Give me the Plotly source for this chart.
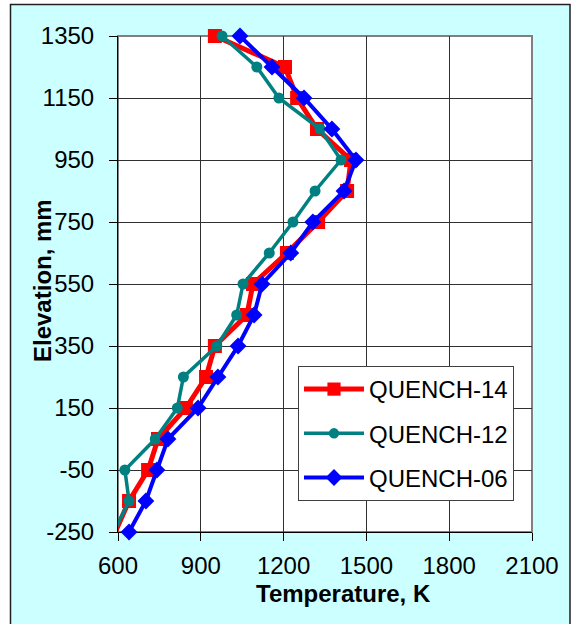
import plotly.graph_objects as go

# Axial temperature profiles (elevation in mm, temperature in K)
elevation = [-250, -150, -50, 50, 150, 250, 350, 450, 550, 650, 750, 850, 950, 1050, 1150, 1250, 1350]
quench14 = [590, 640, 709, 745, 846, 919, 951, 1067, 1089, 1212, 1325, 1430, 1444, 1321, 1249, 1205, 951]
quench12 = [585, 640, 625, 735, 815, 837, 958, 1030, 1053, 1148, 1234, 1314, 1408, 1332, 1183, 1103, 977]
quench06 = [640, 701, 741, 781, 890, 962, 1035, 1093, 1122, 1226, 1306, 1419, 1462, 1375, 1274, 1158, 1042]

x_ticks = [600, 900, 1200, 1500, 1800, 2100]
y_ticks = [-250, -50, 150, 350, 550, 750, 950, 1150, 1350]
x_range = [600, 2100]
y_range = [-250, 1350]

W, H = 572, 624
L, R, T, B = 118, 532, 36, 532  # plot area in pixels


def px_x(p):
    return (p - L) / (R - L)


def px_y(p):
    return (B - p) / (B - T)


def marker_sizes(values, size):
    # points outside the temperature axis keep their line but drop the marker
    return [size if v >= x_range[0] else 0 for v in values]


series = [
    ("QUENCH-14", quench14, "#FF0000", 5, "square", 14),
    ("QUENCH-12", quench12, "#008080", 3.5, "circle", 11),
    ("QUENCH-06", quench06, "#0000FF", 4, "diamond", 13),
]

fig = go.Figure()
for i, (name, temps, color, lw, sym, ms) in enumerate(series):
    fig.add_trace(go.Scatter(
        x=temps, y=elevation, name=name, mode="lines+markers",
        line=dict(color=color, width=lw),
        marker=dict(symbol=sym, size=marker_sizes(temps, ms), color=color,
                    opacity=1, line=dict(width=0)),
        opacity=1, cliponaxis=False, legendgroup=f"g{i}",
    ))

font = "Liberation Sans, Arial, sans-serif"

fig.update_layout(
    width=W, height=H,
    margin=dict(l=L, r=W - R, t=T, b=H - B),
    paper_bgcolor="white", plot_bgcolor="white",
    font=dict(family=font, size=24, color="black"),
    showlegend=True,
    legend=dict(
        x=px_x(298), y=px_y(366), xanchor="left", yanchor="top",
        bgcolor="white", bordercolor="#404040", borderwidth=1,
        font=dict(size=24), tracegroupgap=10, traceorder="grouped",
        itemwidth=60,
    ),
    shapes=[
        dict(type="rect", xref="paper", yref="paper", layer="below",
             x0=px_x(10.5), x1=px_x(570), y0=px_y(630), y1=px_y(4.5),
             fillcolor="#CCFFFF", line=dict(color="#202020", width=1.5)),
        dict(type="rect", xref="paper", yref="paper", layer="below",
             x0=0, x1=1, y0=0, y1=1,
             fillcolor="white", line=dict(color="#808080", width=2)),
    ],
    annotations=[
        dict(text="<b>Temperature, K</b>", xref="paper", yref="paper",
             x=px_x(343), y=px_y(593), xanchor="center", yanchor="middle",
             showarrow=False, font=dict(size=24)),
        dict(text="<b>Elevation, mm</b>", xref="paper", yref="paper",
             x=px_x(42), y=px_y(281), xanchor="center", yanchor="middle",
             textangle=-90, showarrow=False, font=dict(size=24)),
    ],
)

fig.update_xaxes(
    range=x_range, tickvals=x_ticks, ticktext=[str(v) for v in x_ticks],
    showgrid=True, gridcolor="#303030", gridwidth=1,
    showline=True, linecolor="black", linewidth=1,
    ticks="outside", ticklen=8, tickcolor="black", tickwidth=1,
    ticklabelstandoff=4, zeroline=False, layer="below traces",
)
fig.update_yaxes(
    range=y_range, tickvals=y_ticks, ticktext=[str(v) for v in y_ticks],
    showgrid=True, gridcolor="#303030", gridwidth=1,
    showline=True, linecolor="black", linewidth=1,
    ticks="outside", ticklen=8, tickcolor="black", tickwidth=1,
    ticklabelstandoff=10, zeroline=False, layer="below traces",
)

fig.write_html("out.html")
